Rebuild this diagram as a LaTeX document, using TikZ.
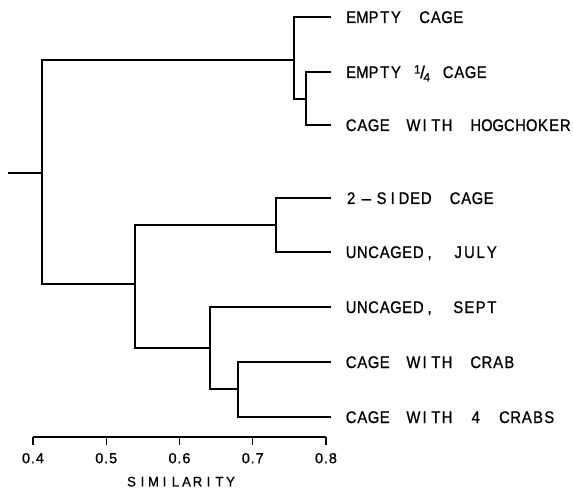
\documentclass[tikz,border=0pt]{standalone}
\usepackage{fontspec}
\newfontfamily\lblfont[FakeBold=1]{Liberation Sans}
\newfontfamily\tickfont[LetterSpace=6,FakeBold=0.8]{Liberation Sans}
\newlength\chw
\newcommand\chsx{0.88}
\makeatletter
\newcommand\lw[1]{\@tfor\@ch:=#1\do{\makebox[\chw][c]{\scalebox{\chsx}[1]{\@ch}}}}
\makeatother
\newcommand\wsp{\hspace{17.5pt}}
\begin{document}
\begin{tikzpicture}[x=1pt,y=-1pt,
  line width=1.1pt,
  leaf/.style={anchor=west,inner sep=0pt,text height=12pt,text depth=0pt,
    font=\fontsize{16.8}{16.8}\lblfont\setlength\chw{11.2pt}},
  ticklabel/.style={inner sep=0pt,text height=10.4pt,text depth=0pt,font=\fontsize{14.5}{14.5}\tickfont},
  axtitle/.style={inner sep=0pt,text height=9.9pt,text depth=0pt,
    font=\fontsize{13.8}{13.8}\lblfont\setlength\chw{11pt}\renewcommand\chsx{0.95}}]
\useasboundingbox (0,0) rectangle (573,489);
% leaves
\node[leaf] (L1) at (345,17) {\lw{EMPTY}\wsp\lw{CAGE}};
\node[leaf] (L2) at (345,72) {\lw{EMPTY}\makebox[41pt][c]{{\fontsize{12}{12}\selectfont\raisebox{4.5pt}{1}}\kern-0.5pt{\fontsize{17}{17}\selectfont/}\kern-1.5pt{\fontsize{12}{12}\selectfont\raisebox{-3.5pt}{4}}}\lw{CAGE}};
\node[leaf] (L3) at (345,125) {\lw{CAGE}\wsp\lw{WITH}\wsp\lw{HOGCHOKER}};
\node[leaf] (L4) at (345,198) {\lw{2}\hspace{4pt}\makebox[\chw][c]{\textendash}\hspace{4pt}\lw{SIDED}\wsp\lw{CAGE}};
\node[leaf] (L5) at (345,252) {\lw{UNCAGED,}\wsp\lw{JULY}};
\node[leaf] (L6) at (345,307) {\lw{UNCAGED,}\wsp\lw{SEPT}};
\node[leaf] (L7) at (345,362) {\lw{CAGE}\wsp\lw{WITH}\wsp\lw{CRAB}};
\node[leaf] (L8) at (345,417) {\lw{CAGE}\wsp\lw{WITH}\wsp\lw{4}\wsp\lw{CRABS}};
% junctions
\coordinate (r0) at (8,173);
\coordinate (R) at (42,173);
\coordinate (A) at (294,60);
\coordinate (B) at (306,99);
\coordinate (C) at (135,284);
\coordinate (D) at (276,225);
\coordinate (E) at (210,348);
\coordinate (F) at (238,389);
% connectors
\draw (r0) -- (R);
\draw (A) -| (R) |- (C);
\draw ([xshift=-14pt]L1.west) -| (A) |- (B);
\draw ([xshift=-14pt]L2.west) -| (B) |- ([xshift=-14pt]L3.west);
\draw (D) -| (C) |- (E);
\draw ([xshift=-14pt]L4.west) -| (D) |- ([xshift=-14pt]L5.west);
\draw ([xshift=-14pt]L6.west) -| (E) |- (F);
\draw ([xshift=-14pt]L7.west) -| (F) |- ([xshift=-14pt]L8.west);
% axis
\coordinate (x4) at (33,437);
\coordinate (x5) at (106.25,437);
\coordinate (x6) at (179.5,437);
\coordinate (x7) at (252.75,437);
\coordinate (x8) at (326,437);
\draw (x4) -- (x8);
\foreach \t in {4,5,6,7,8} {\draw (x\t) -- ++(0,8);}
\node[ticklabel] (t4) at (33,458) {0.4};
\node[ticklabel] (t5) at (106.25,458) {0.5};
\node[ticklabel] (t6) at (179.5,458) {0.6};
\node[ticklabel] (t7) at (252.75,458) {0.7};
\node[ticklabel] (t8) at (326,458) {0.8};
\node[axtitle] (sim) at (181,481.5) {\lw{SIMILARITY}};
\end{tikzpicture}
\end{document}
